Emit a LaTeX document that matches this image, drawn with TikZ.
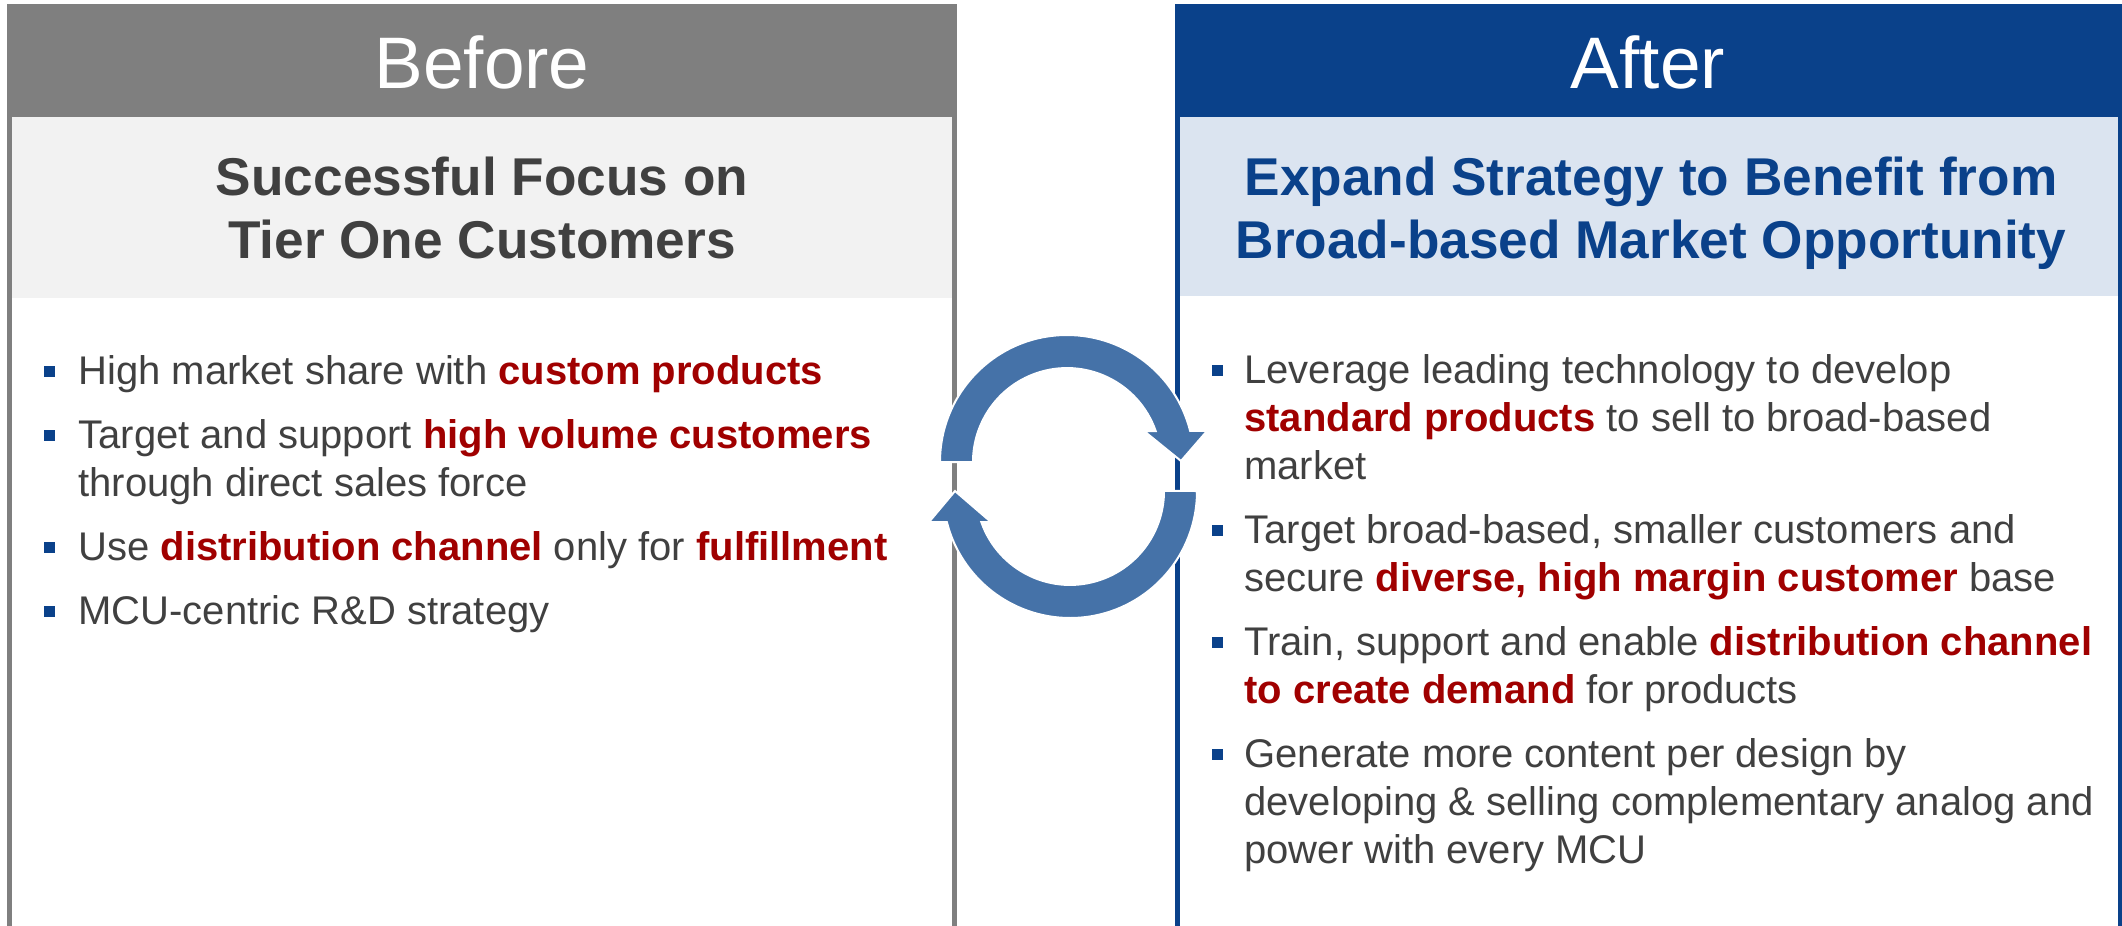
\documentclass[tikz,border=0pt]{standalone}
\usepackage{fontspec}
\setmainfont{Liberation Sans}
\definecolor{headgray}{RGB}{127,127,127}
\definecolor{bandgray}{RGB}{242,242,242}
\definecolor{headblue}{RGB}{10,65,138}
\definecolor{bandblue}{RGB}{219,228,240}
\definecolor{hlred}{RGB}{160,0,0}
\definecolor{bodygray}{RGB}{64,64,64}
\definecolor{arrowblue}{RGB}{69,114,168}
\newcommand{\hl}[1]{\textbf{\textcolor{hlred}{#1}}}
\tikzset{
  body/.style={anchor=base west, inner sep=0pt, text=bodygray, font=\fontsize{20}{24}\selectfont},
  bul/.style={fill=headblue, minimum size=5.5pt, inner sep=0pt},
  headtxt/.style={anchor=base, inner sep=0pt, text=white, font=\fontsize{36.5}{43}\selectfont},
  subtxt/.style={anchor=base, inner sep=0pt, font=\fontsize{26.6}{31.5}\selectfont\bfseries},
  cyc/.style={fill=arrowblue, draw=white, line width=1pt},
}
\begin{document}
\begin{tikzpicture}[x=0.5pt,y=-0.5pt]
\useasboundingbox (0,0) rectangle (2122,926);
% left panel
\fill[headgray] (6.5,4) rectangle (957,117);
\fill[bandgray] (11.5,117) rectangle (952,298);
\draw[headgray, line width=2.5pt] (9,4) -- (9,930);
\draw[headgray, line width=2.5pt] (954.5,4) -- (954.5,930);
% right panel
\fill[headblue] (1175,4) rectangle (2122,117);
\fill[bandblue] (1180,117) rectangle (2117.5,296);
\draw[headblue, line width=2.5pt] (1177.5,4) -- (1177.5,930);
\draw[headblue, line width=2.5pt] (2120,4) -- (2120,930);
% cycle arrows
\filldraw[cyc] (940,462) arc[start angle=180, end angle=345.8, radius=127]
  -- (1207,431) -- (1181,461) -- (1144,431) -- (1155.7,431)
  arc[start angle=340.7, end angle=180, radius=94] -- cycle;
\filldraw[cyc] (1197,491) arc[start angle=0, end angle=165.8, radius=127]
  -- (929,522) -- (955,491) -- (991,522) -- (981.3,522)
  arc[start angle=160.7, end angle=0, radius=94] -- cycle;
% headers
\node[headtxt] (before) at (482,88) {Before};
\node[headtxt] (after) at (1648,88) {After};
\node[subtxt, text=bodygray] (s1) at (482,195) {Successful Focus on};
\node[subtxt, text=bodygray] (s2) at (482,258) {Tier One Customers};
\node[subtxt, text=headblue] (s3) at (1651,195) {Expand Strategy to Benefit from};
\node[subtxt, text=headblue] (s4) at (1651,258) {Broad-based Market Opportunity};
% left bullets
\node[bul] (lb1) at (49.5,371) {};
\node[body] (l1) at (78,384) {High market share with \hl{custom products}};
\node[bul] (lb2) at (49.5,435) {};
\node[body] (l2) at (78,448) {Target and support \hl{high volume customers}};
\node[body] (l2b) at (78,496) {through direct sales force};
\node[bul] (lb3) at (49.5,547) {};
\node[body] (l3) at (78,560) {Use \hl{distribution channel} only for \hl{fulfillment}};
\node[bul] (lb4) at (49.5,611) {};
\node[body] (l4) at (78,624) {MCU-centric R\&D strategy};
% right bullets
\node[bul] (rb1) at (1217,370) {};
\node[body] (r1) at (1244,383) {Leverage leading technology to develop};
\node[body] (r1b) at (1244,431) {\hl{standard products} to sell to broad-based};
\node[body] (r1c) at (1244,479) {market};
\node[bul] (rb2) at (1217,530) {};
\node[body] (r2) at (1244,543) {Target broad-based, smaller customers and};
\node[body] (r2b) at (1244,591) {secure \hl{diverse, high margin customer} base};
\node[bul] (rb3) at (1217,642) {};
\node[body] (r3) at (1244,655) {Train, support and enable \hl{distribution channel}};
\node[body] (r3b) at (1244,703) {\hl{to create demand} for products};
\node[bul] (rb4) at (1217,754) {};
\node[body] (r4) at (1244,767) {Generate more content per design by};
\node[body] (r4b) at (1244,815) {developing \& selling complementary analog and};
\node[body] (r4c) at (1244,863) {power with every MCU};
\end{tikzpicture}
\end{document}
